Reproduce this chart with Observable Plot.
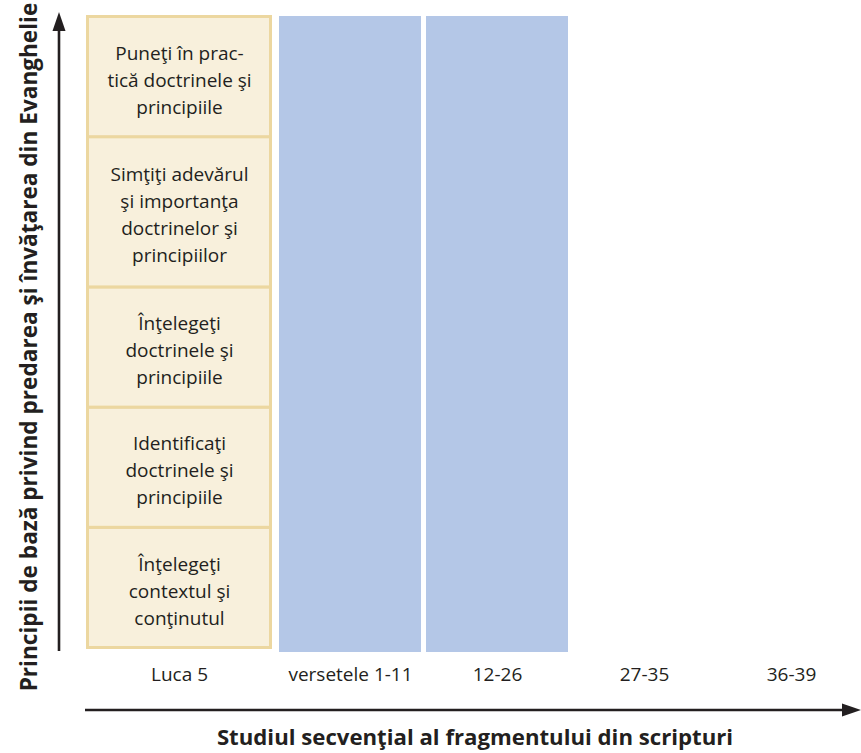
<!DOCTYPE html>
<html><head><meta charset="utf-8">
<script src="https://cdn.jsdelivr.net/npm/d3@7"></script>
<script src="https://cdn.jsdelivr.net/npm/@observablehq/plot@0.6"></script>
<style>body{margin:0;background:#fff}</style>
</head><body><div id="chart"></div>
<script>
// ---- data ----
const columns = ["Luca 5", "versetele 1-11", "12-26", "27-35", "36-39"];
const studiedColumns = ["versetele 1-11", "12-26"];
// principles, listed from bottom to top, with the original line breaks
const principles = [
  "Înţelegeţi\ncontextul şi\nconţinutul",
  "Identificaţi\ndoctrinele şi\nprincipiile",
  "Înţelegeţi\ndoctrinele şi\nprincipiile",
  "Simţiţi adevărul\nşi importanţa\ndoctrinelor şi\nprincipiilor",
  "Puneţi în prac-\ntică doctrinele şi\nprincipiile"
];
const xTitle = "Studiul secvenţial al fragmentului din scripturi";
const yTitle = "Principii de bază privind predarea şi învăţarea din Evanghelie";

// each cell is as tall as its number of lines plus one
let acc = 0;
const cells = principles.map(label => {
  const size = label.split("\n").length + 1;
  const c = {column: columns[0], label, y1: acc, y2: acc + size};
  acc += size;
  return c;
});
const total = acc;

const FONT = "'Open Sans', 'Noto Sans', sans-serif";
const INK = "#231f20";

function decorations(index, scales, values, dims) {
  const g = d3.create("svg:g");
  // vertical arrow
  g.append("line").attr("x1", 59).attr("x2", 59).attr("y1", 651).attr("y2", 26)
    .attr("stroke", INK).attr("stroke-width", 2.6);
  g.append("path").attr("d", "M59,12L52.5,31L65.5,31Z").attr("fill", INK);
  // horizontal arrow
  g.append("line").attr("x1", 85).attr("x2", 846).attr("y1", 710).attr("y2", 710)
    .attr("stroke", INK).attr("stroke-width", 2.6);
  g.append("path").attr("d", "M861,710L842,703.5L842,716.5Z").attr("fill", INK);
  // titles
  g.append("text").text(xTitle).attr("x", 475).attr("y", 745)
    .attr("text-anchor", "middle").attr("font-family", FONT).attr("font-weight", "bold")
    .attr("font-size", 22.2).attr("fill", INK);
  g.append("text").text(yTitle).attr("transform", "translate(37,347) rotate(-90)")
    .attr("text-anchor", "middle").attr("font-family", FONT).attr("font-weight", "bold")
    .attr("font-size", 22.6).attr("fill", INK);
  return g.node();
}

const chart = Plot.plot({
  width: 861,
  height: 753,
  marginTop: 16.5,
  marginBottom: 105.5,
  marginLeft: 132,
  marginRight: 0,
  style: {fontFamily: FONT, background: "#fff"},
  x: {type: "band", domain: columns, range: [132, 862], paddingInner: 5 / 147, paddingOuter: 0, round: false, axis: null},
  y: {domain: [0, total], axis: null},
  marks: [
    Plot.barY(studiedColumns, {x: d => d, y1: 0, y2: total, fill: "#b4c7e7", insetTop: -0.5, insetBottom: -4.5}),
    Plot.barY(cells, {x: "column", y1: "y1", y2: "y2", fill: "#f8f0dc", stroke: "#ecd7a0", strokeWidth: 3, insetLeft: -44.5, insetRight: 3.5}),
    Plot.text(cells, {x: "column", y: d => (d.y1 + d.y2) / 2, text: "label", dx: -24, dy: 1, fontSize: 19, lineHeight: 1.42, fill: INK, lineAnchor: "middle"}),
    Plot.text(columns.slice(0, 1), {x: d => d, text: d => d, frameAnchor: "bottom", dy: 27, dx: -24, fontSize: 19, fill: INK, lineAnchor: "middle"}),
    Plot.text(columns.slice(1), {x: d => d, text: d => d, frameAnchor: "bottom", dy: 27, fontSize: 19, fill: INK, lineAnchor: "middle"}),
    decorations
  ]
});
document.getElementById("chart").appendChild(chart);
</script>
</body></html>
